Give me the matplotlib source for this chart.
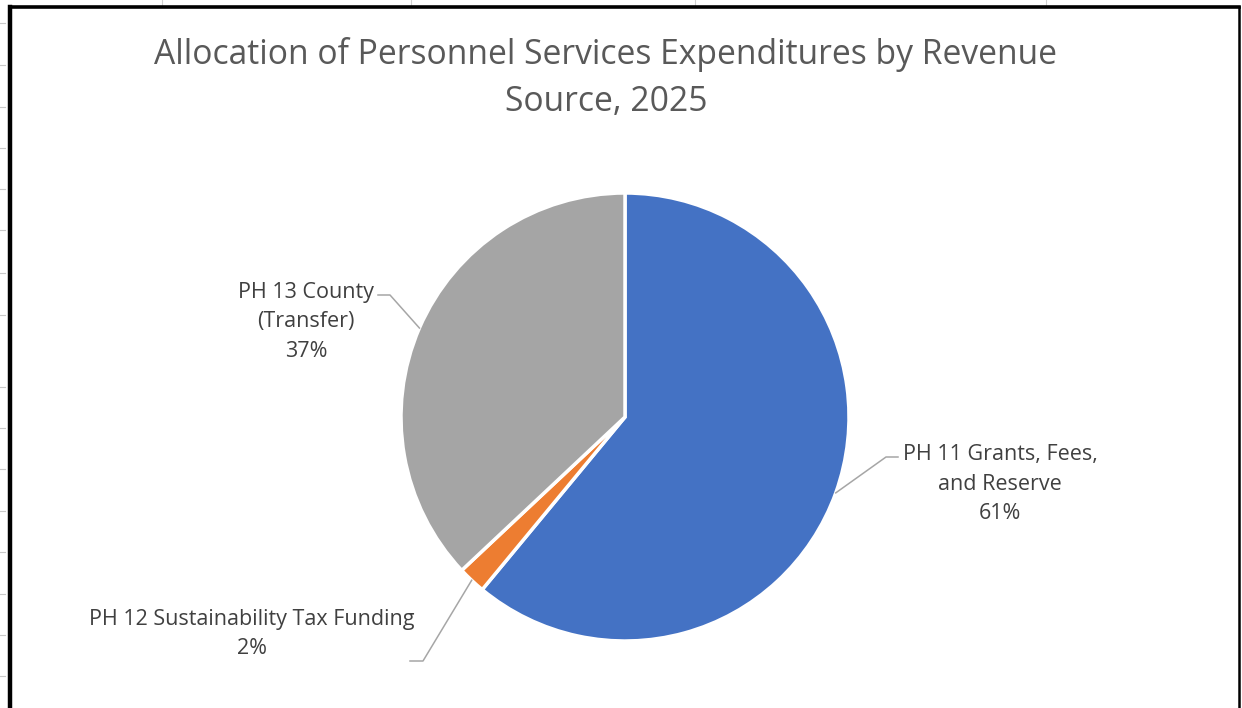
import numpy as np
import matplotlib.pyplot as plt

# Personnel services expenditures by revenue source, 2025 (percent)
sources = ["PH 11 Grants, Fees,\nand Reserve", "PH 12 Sustainability Tax Funding", "PH 13 County\n(Transfer)"]
shares = [61, 2, 37]
colors = ["#4472C4", "#ED7D31", "#A5A5A5"]

W, H = 1242, 708
fig = plt.figure(figsize=(W / 100, H / 100), dpi=100)
ax = fig.add_axes([0, 0, 1, 1])

def py(y):
    # screen-style y (from top) to axes y
    return H - y

# spreadsheet grid peeking out around the chart frame
for x in [162, 411, 695, 1046]:
    ax.plot([x, x], [py(0), py(5)], color="#d0d0d0", lw=0.8)
for y in [23, 65, 107, 148, 189, 230, 273, 315, 387, 428, 469, 511, 552, 594, 635, 676]:
    ax.plot([0, 5], [py(y), py(y)], color="#c8c8c8", lw=0.8)

# chart frame
ax.plot([10, 10], [py(720), py(7)], color="black", lw=3.2, solid_capstyle="projecting")
ax.plot([10, 1239], [py(7), py(7)], color="black", lw=2.6, solid_capstyle="projecting")
ax.plot([1239, 1239], [py(7), py(720)], color="black", lw=1.8)

cx, cy, r = 625, py(417), 224
wedges, _ = ax.pie(shares, colors=colors, startangle=90, counterclock=False,
                   center=(cx, cy), radius=r, frame=True,
                   wedgeprops=dict(edgecolor="white", linewidth=2.5))
ax.set_xlim(0, W)
ax.set_ylim(0, H)
ax.set_aspect("equal")
ax.axis("off")

ax.text(606, py(78), "Allocation of Personnel Services Expenditures by Revenue\nSource, 2025",
        ha="center", va="center", fontsize=24.2, color="#595959", family="Open Sans",
        linespacing=1.5)

# data labels with leader lines
label_font = dict(fontsize=15.5, color="#404040", family="Open Sans", ha="center", va="center",
                  linespacing=1.55)
label_pos = [(1000, 484), (252, 634), (306, 322)]
leader_pts = [[(886, 457), (898, 457)], [(423, 661), (410, 661)], [(390, 295), (378, 295)]]

for w, name, pct, (lx, ly), pts in zip(wedges, sources, shares, label_pos, leader_pts):
    # leader starts on the rim at the middle of the wedge
    ang = np.deg2rad((w.theta1 + w.theta2) / 2)
    ex, ey = cx + r * np.cos(ang), cy + r * np.sin(ang)
    xs = [ex] + [p[0] for p in pts]
    ys = [ey] + [py(p[1]) for p in pts]
    ax.plot(xs, ys, color="#a6a6a6", lw=1.1)
    ax.text(lx, py(ly), f"{name}\n{pct}%", **label_font)

fig.savefig("out.png", dpi=100)
